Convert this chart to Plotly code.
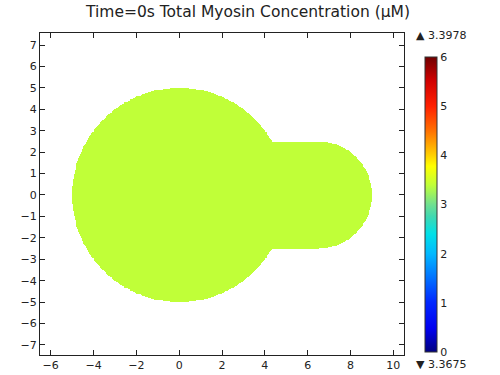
import numpy as np
import plotly.graph_objects as go

# ---- data ----
title_text = "Time=0s Total Myosin Concentration (µM)"
conc_max = 3.3978
conc_min = 3.3675
color_min, color_max = 0, 6
cbar_ticks = [0, 1, 2, 3, 4, 5, 6]
x_ticks = [-6, -4, -2, 0, 2, 4, 6, 8, 10]
y_ticks = [-7, -6, -5, -4, -3, -2, -1, 0, 1, 2, 3, 4, 5, 6, 7]

# geometry of the cell (µm): soma disc + protrusion with round cap
soma_radius = 5.0
neck_half_width = 2.5
cap_center_x = 6.5

# ---- grid ----
step = 0.04
xs = np.arange(-6.5, 10.5 + step / 2, step)
ys = np.arange(-7.5, 7.6 + step / 2, step)
X, Y = np.meshgrid(xs, ys)
inside = (X**2 + Y**2 <= soma_radius**2)
inside |= (X >= 0) & (X <= cap_center_x) & (np.abs(Y) <= neck_half_width)
inside |= (X - cap_center_x)**2 + Y**2 <= neck_half_width**2
Z = np.where(inside, conc_max, np.nan)

rainbow = [
    [0.0, "#000080"], [0.08, "#0000f0"], [0.17, "#0028ff"],
    [0.25, "#0070ff"], [0.333, "#00b8ff"], [0.40, "#00e0e8"],
    [0.46, "#40d8b0"], [0.5, "#70e090"], [0.566, "#c0ff38"],
    [0.63, "#ffff00"], [0.667, "#ffd000"], [0.75, "#ff7000"],
    [0.833, "#ff2000"], [0.92, "#d00000"], [1.0, "#700000"],
]

L, R, T, B = 40, 96, 33, 20
H = 375 - T - B
W = 500 - L - R

fig = go.Figure()
fig.add_trace(go.Heatmap(
    x=xs, y=ys, z=Z, zmin=color_min, zmax=color_max,
    colorscale=rainbow, hoverinfo="skip", zsmooth=False,
    colorbar=dict(
        x=(425 - L) / W, xanchor="left",
        y=(375 - B - 352) / H, yanchor="bottom",
        len=(352 - 57) / H, lenmode="fraction",
        thickness=12, xpad=0, ypad=0,
        outlinewidth=1, outlinecolor="#333",
        tickvals=cbar_ticks, ticks="", ticklabelposition="outside",
        tickfont=dict(size=11, color="#222"),
    ),
))

axis_common = dict(
    showline=True, mirror="ticks", linecolor="#222", linewidth=1,
    ticks="inside", ticklen=5, tickcolor="#222",
    showgrid=False, zeroline=False, automargin=False,
    tickfont=dict(size=11, color="#222"),
)
fig.update_xaxes(range=[-6.5, 10.5], tickvals=x_ticks, **axis_common)
fig.update_yaxes(range=[-7.47, 7.56], tickvals=y_ticks, **axis_common)

fig.add_annotation(xref="paper", yref="paper", x=(414 - L) / W, y=1 - 3 / H,
                   xanchor="left", yanchor="middle", showarrow=False,
                   text=f"▲ {conc_max:.4f}", font=dict(size=11, color="#222"))
fig.add_annotation(xref="paper", yref="paper", x=(414 - L) / W, y=-9 / H,
                   xanchor="left", yanchor="middle", showarrow=False,
                   text=f"▼ {conc_min:.4f}", font=dict(size=11, color="#222"))

fig.update_layout(
    width=500, height=375,
    margin=dict(l=L, r=R, t=T, b=B, autoexpand=False),
    paper_bgcolor="white", plot_bgcolor="white",
    font=dict(family="DejaVu Sans"),
    title=dict(text=title_text, x=0.496, xanchor="center", y=1 - 12 / 375,
               yanchor="middle", yref="container",
               font=dict(size=15.5, color="#222")),
)

fig.write_html("out.html")
